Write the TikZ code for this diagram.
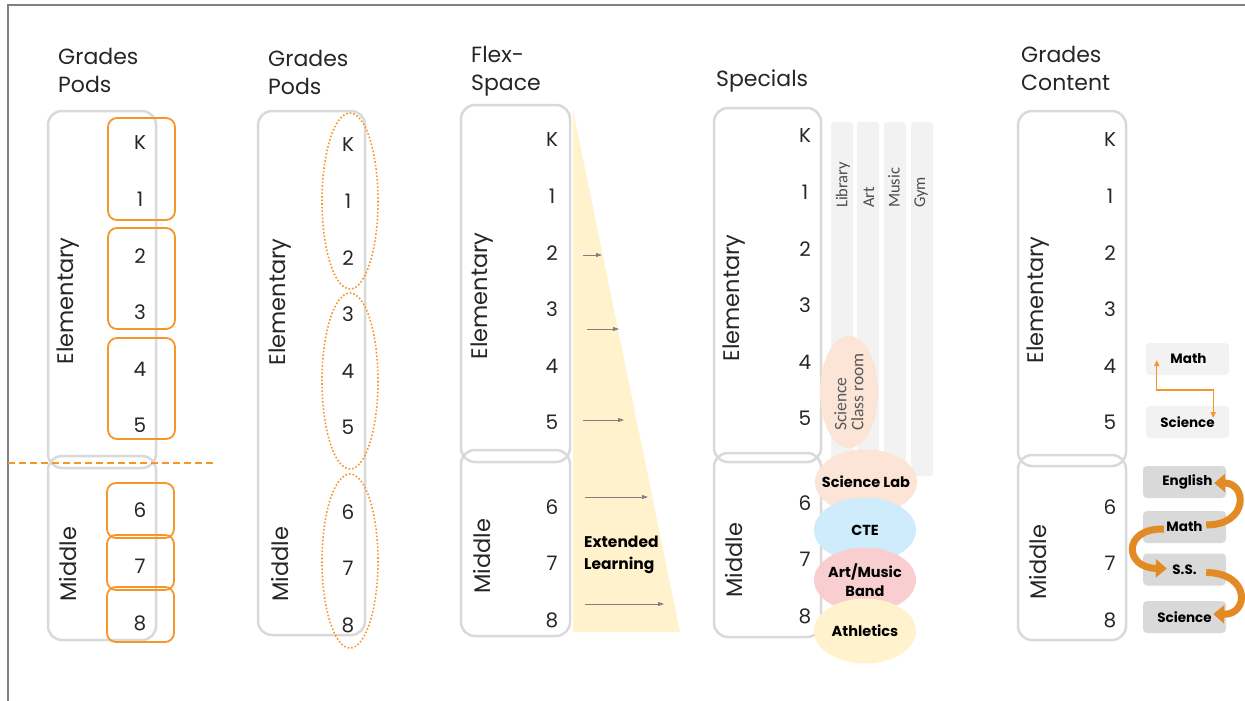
\documentclass[tikz,border=0pt]{standalone}
\usepackage{fontspec}
\setmainfont{Poppins}
\newfontfamily\calibfont{Carlito}
\usepackage{tikz}
\usetikzlibrary{positioning,calc,arrows.meta,shapes.geometric}

\definecolor{podorange}{RGB}{247,150,40}
\definecolor{curveorange}{RGB}{226,138,36}
\definecolor{boxgray}{RGB}{217,217,217}
\definecolor{palegray}{RGB}{242,242,242}
\definecolor{flexyellow}{RGB}{255,242,204}
\definecolor{peach}{RGB}{252,228,214}
\definecolor{ctebleu}{RGB}{206,236,251}
\definecolor{bandpink}{RGB}{248,206,208}
\definecolor{arrowgray}{RGB}{128,128,128}
\definecolor{inkgray}{RGB}{38,38,38}

\tikzset{
  frame/.style={draw=arrowgray, line width=2pt},
  grp/.style={draw=boxgray, line width=2.5pt, rounded corners=14pt},
  title/.style={anchor=north west, align=left, inner sep=0pt, text=inkgray,
    font=\fontsize{22}{28}\selectfont},
  grade/.style={inner sep=0pt, text=inkgray, font=\fontsize{20}{24}\selectfont},
  level/.style={rotate=90, inner sep=0pt, text=inkgray, font=\fontsize{22.5}{24}\selectfont},
  pod/.style={draw=podorange, line width=1.8pt, rounded corners=9pt},
  podring/.style={draw=podorange, line width=1.6pt, dotted},
  flexarrow/.style={draw=arrowgray, line width=0.8pt, -{Triangle[length=6pt,width=4pt]}},
  lane/.style={fill=palegray, rounded corners=3pt},
  lanelabel/.style={rotate=90, anchor=west, inner sep=0pt, text=black!70,
    font=\calibfont\fontsize{16.5}{17}\selectfont},
  special/.style={ellipse, inner sep=0pt, minimum width=102pt, minimum height=65pt},
  speclabel/.style={align=center, inner sep=0pt, font=\bfseries\fontsize{14.5}{19}\selectfont},
  subject/.style={rounded corners=4pt, inner sep=0pt, minimum width=83pt,
    minimum height=32pt, font=\bfseries\fontsize{13.5}{15}\selectfont},
  swap/.style={draw=curveorange, line width=7pt,
    -{Triangle[length=11pt,width=18pt]}}
}

% grade numbers K..8 of one column
\newcommand{\gradecol}[3]{%
  \foreach \g/\dy in {K/0,1/56,2/113,3/169,4/226,5/282,6/367,7/423,8/480}
    \node[grade] (#1-\g) at (#2,#3+\dy) {\g};}

\begin{document}
\begin{tikzpicture}[x=1pt,y=-1pt]
    \useasboundingbox (0,0) rectangle (1245,701);
    \draw[frame] (8,701) -- (8,5) -- (1245,5);

    % Grades / Pods, boxes
    \node[title] (podtitle) at (58,48) {Grades\\Pods};
    \draw[grp] (48,111) rectangle (156,468); % elementary
    \draw[grp] (48,456) rectangle (156,640); % middle
    \node[level] (podelem) at (68,301) {Elementary};
    \node[level] (podmid) at (68,564) {Middle};
    \draw[pod] (108,118) rectangle (175,220);
    \draw[pod] (108,228) rectangle (175,329);
    \draw[pod] (108,338) rectangle (175,439);
    \draw[pod] (107,483) rectangle (174,538);
    \draw[pod] (107,535) rectangle (174,590);
    \draw[pod] (107,587) rectangle (174,642);
    \draw[podorange, line width=1.5pt, dash pattern=on 7pt off 4pt] (8,463) -- (217,463);
    \gradecol{a}{140}{143}

    % Grades / Pods, rings
    \node[title] (ringtitle) at (268,50) {Grades\\Pods};
    \draw[grp] (258,111) rectangle (365,635);
    \node[level] (ringelem) at (280,302) {Elementary};
    \node[level] (ringmid) at (280,564) {Middle};
    \draw[podring] (350,201) ellipse (28 and 88);
    \draw[podring] (350,381) ellipse (28 and 88);
    \draw[podring] (350,561) ellipse (28 and 87);
    \gradecol{b}{348}{145}

    % Flex-Space
    \node[title] (flextitle) at (471,46) {Flex-\\Space};
    \fill[flexyellow] (573,110) -- (680,632) -- (573,632) -- cycle;
    \draw[grp] (461,105) rectangle (570,462);
    \draw[grp] (461,450) rectangle (570,636);
    \node[level] (flexelem) at (482,296) {Elementary};
    \node[level] (flexmid) at (482,556) {Middle};
    \gradecol{c}{552}{140}
    \draw[flexarrow] (583,255) -- (602,255);
    \draw[flexarrow] (587,329) -- (619,329);
    \draw[flexarrow] (583,420) -- (624,420);
    \draw[flexarrow] (585,497) -- (648,497);
    \draw[flexarrow] (585,604) -- (664,604);
    \node[anchor=west, align=left, inner sep=0pt, font=\bfseries\fontsize{15.5}{22}\selectfont]
      (extended) at (584,555) {Extended\\Learning};

    % Specials
    \node[title] (spectitle) at (716,70) {Specials};
    \draw[grp] (714,108) rectangle (821,462);
    \draw[grp] (714,453) rectangle (821,637);
    \node[level] (specelem) at (734,298) {Elementary};
    \node[level] (specmid) at (734,560) {Middle};
    \gradecol{d}{805}{136}
    \fill[lane] (831,122) rectangle (853,476);
    \fill[lane] (857,122) rectangle (879,476);
    \fill[lane] (884,122) rectangle (906,476);
    \fill[lane] (911,122) rectangle (933,476);
    \node[lanelabel] (library) at (843,208) {Library};
    \node[lanelabel] (art) at (869,208) {Art};
    \node[lanelabel] (music) at (894,208) {Music};
    \node[lanelabel] (gym) at (921,208) {Gym};
    \node[ellipse, fill=peach, inner sep=0pt, minimum width=58pt, minimum height=112pt]
      (sciroom) at (849,392) {};
    \node[rotate=90, align=left, inner sep=0pt, text=black!65,
      font=\calibfont\fontsize{17.5}{17}\selectfont] at (sciroom) {Science\\Class room};
    \node[special, fill=peach] (scilab) at (866,482) {};
    \node[special, fill=ctebleu] (cte) at (865,530) {};
    \node[special, fill=bandpink] (band) at (865,580) {};
    \node[special, fill=flexyellow] (athletics) at (865,631) {};
    \node[speclabel] at (scilab) {Science Lab};
    \node[speclabel] at (cte) {CTE};
    \node[speclabel] at (band) {Art/Music\\Band};
    \node[speclabel] at (athletics) {Athletics};

    % Grades / Content
    \node[title] (contitle) at (1021,46) {Grades\\Content};
    \draw[grp] (1018,111) rectangle (1126,466);
    \draw[grp] (1018,455) rectangle (1126,640);
    \node[level] (conelem) at (1038,300) {Elementary};
    \node[level] (conmid) at (1038,562) {Middle};
    \gradecol{e}{1110}{140}
    \node[subject, fill=palegray] (emath) at (1187.5,359) {\hspace{2pt}Math};
    \node[subject, fill=palegray] (esci) at (1187.5,422) {Science};
    \draw[podorange, line width=1.2pt, {Triangle[length=6pt,width=5pt]}-{Triangle[length=6pt,width=5pt]}]
      ($(emath.west)+(11,1)$) |- ($(esci.east)+(-16,-32)$) -- ($(esci.east)+(-16,-4)$);
    \node[subject, fill=boxgray] (english) at (1184.5,482) {\hspace{6pt}English};
    \node[subject, fill=boxgray] (mmath) at (1184.5,527) {Math};
    \node[subject, fill=boxgray] (social) at (1184.5,569.5) {S.S.};
    \node[subject, fill=boxgray] (msci) at (1184.5,617) {Science};
    \draw[swap] ($(mmath.east)+(-20,-2)$) .. controls (1249,525) and (1247,483) .. ($(english.east)+(-12,1)$);
    \draw[swap] ($(mmath.west)+(21,2)$) .. controls (1122,528) and (1124,568) .. ($(social.west)+(24,-1)$);
    \draw[swap] ($(social.east)+(-20,3)$) .. controls (1251,573) and (1249,615) .. ($(msci.east)+(-13,-3)$);
\end{tikzpicture}
\end{document}
